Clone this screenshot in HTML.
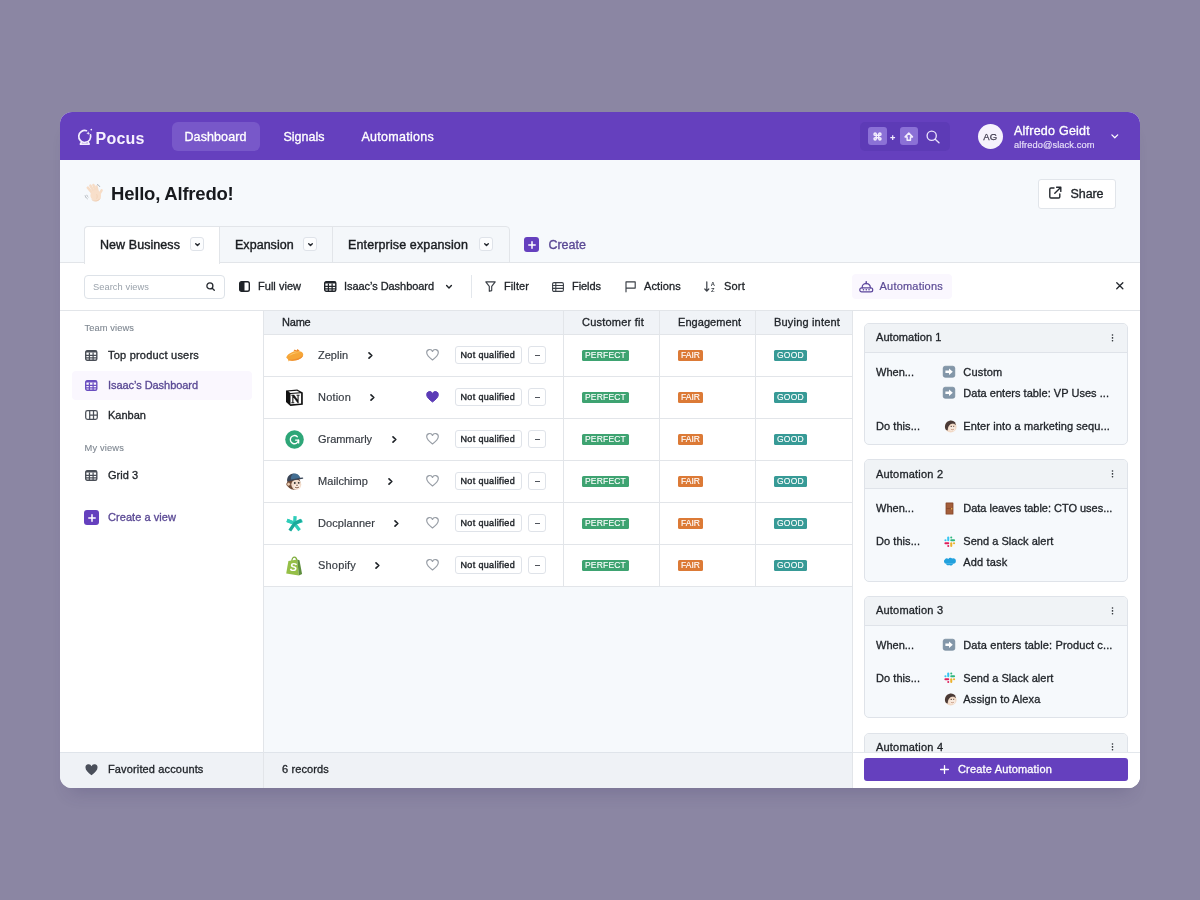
<!DOCTYPE html>
<html lang="en">
<head>
<meta charset="utf-8">
<title>Pocus Dashboard</title>
<style>
*{box-sizing:border-box;margin:0;padding:0}
html,body{width:1200px;height:900px;overflow:hidden}
body{background:#8b86a3;font-family:"Liberation Sans",sans-serif;color:#1f2328;position:relative}
.abs{position:absolute}
#win{position:absolute;left:60px;top:112px;width:1080px;height:676px;border-radius:12px;overflow:hidden;background:#f6f9fc}
#shadow{position:absolute;left:60px;top:112px;width:1080px;height:676px;border-radius:12px;box-shadow:0 14px 18px -10px rgba(45,35,90,.2)}
.t{position:absolute;white-space:nowrap}
svg{position:absolute;overflow:visible}
</style>
</head>
<body>
<div id="shadow"></div>
<div id="win">
<div class="abs" style="left:0px;top:0px;width:1080px;height:48px;background:#6540be;"></div>
<svg style="left:17px;top:16px" width="16" height="18" viewBox="0 0 16 18" ><path d="M13.500 6.800A6 6 0 1 1 9.500 2.750" fill="none" stroke="#f3eefd" stroke-width="1.700" stroke-linecap="round"/><path d="M4.600 13.800L3.300 16.100h9L11 13.800" fill="none" stroke="#f3eefd" stroke-width="1.600" stroke-linejoin="round" stroke-linecap="round"/><path d="M11.200 3.300l.55 1.350 1.350.55-1.350.55-.55 1.350-.55-1.350-1.350-.55 1.350-.55z" fill="#f3eefd"/><circle cx="14.300" cy="1.600" r=".85" fill="#f3eefd"/></svg>
<div class="t" style="left:35.5px;top:18px;font-size:16px;line-height:17px;color:#f6f1fe;font-weight:700;letter-spacing:0.237px;">Pocus</div>
<div class="abs" style="left:112px;top:9.5px;width:88px;height:29.0px;background:#7858c9;border-radius:6px;"></div>
<div class="t" style="left:124.5px;top:18px;font-size:12.5px;line-height:14px;color:#fff;letter-spacing:0.094px;-webkit-text-stroke:0.32px #fff;">Dashboard</div>
<div class="t" style="left:223.5px;top:18px;font-size:12.5px;line-height:14px;color:#fff;-webkit-text-stroke:0.32px #fff;">Signals</div>
<div class="t" style="left:301.5px;top:18px;font-size:12.5px;line-height:14px;color:#fff;letter-spacing:0.274px;-webkit-text-stroke:0.32px #fff;">Automations</div>
<div class="abs" style="left:800px;top:10px;width:90px;height:29px;background:#5d3bb6;border-radius:5px;"></div>
<div class="abs" style="left:808px;top:15.299999999999997px;width:18.600000000000023px;height:18.000000000000014px;background:#8b71d6;border-radius:3px;"></div>
<svg style="left:812.8px;top:19.80000000000001px" width="9" height="9" viewBox="0 0 11 11" fill="none" stroke="#f3eefd" stroke-width="1.700"><path d="M4 4V2.600A1.400 1.400 0 1 0 2.600 4H4zM4 4h3M7 4V2.600A1.400 1.400 0 1 1 8.400 4H7zM7 4v3M7 7h1.400A1.400 1.400 0 1 1 7 8.400V7zM7 7H4M4 7v1.400A1.400 1.400 0 1 1 2.600 7H4zM4 7V4"/></svg>
<svg style="left:830.3px;top:22.5px" width="5.4" height="5.4" viewBox="0 0 5.400 5.400" fill="none" stroke="#efe9fc" stroke-width="1.300"><path d="M2.700 .3v4.800M.3 2.700h4.800"/></svg>
<div class="abs" style="left:840px;top:15.299999999999997px;width:18.200000000000045px;height:18.000000000000014px;background:#8b71d6;border-radius:3px;"></div>
<svg style="left:844.3px;top:19.599999999999994px" width="9.6" height="9.6" viewBox="0 0 11 11" fill="none" stroke="#f3eefd" stroke-width="1.700" stroke-linejoin="round"><path d="M5.500 1.300L1.300 5.600h2.300v3.900h3.800V5.600h2.300z"/></svg>
<svg style="left:866px;top:18.30000000000001px" width="14" height="14" viewBox="0 0 14 14" fill="none" stroke="#e9e1fb" stroke-width="1.350" stroke-linecap="round"><circle cx="5.700" cy="5.700" r="4.600"/><path d="M9.200 9.200l3.800 3.600"/></svg>
<div class="abs" style="left:918px;top:12px;width:24.5px;height:24.5px;background:#f6f2fc;border-radius:12.5px;"></div>
<div class="t" style="left:923.3px;top:19px;font-size:9.5px;line-height:11px;color:#3d394b;letter-spacing:0.187px;-webkit-text-stroke:0.25px #3d394b;">AG</div>
<div class="t" style="left:954px;top:12px;font-size:12.5px;line-height:14px;color:#fff;letter-spacing:0.234px;-webkit-text-stroke:0.35px #fff;">Alfredo Geidt</div>
<div class="t" style="left:954px;top:28px;font-size:9.3px;line-height:10px;color:#e8e0fa;letter-spacing:0.075px;-webkit-text-stroke:0.15px #e8e0fa;">alfredo@slack.com</div>
<svg style="left:1051px;top:22.30000000000001px" width="7.6" height="5" viewBox="0 0 9 6" fill="none" stroke="#fff" stroke-width="1.500" stroke-linecap="round" stroke-linejoin="round"><path d="M1 1l3.500 3.500L8 1"/></svg>
<svg style="left:24px;top:70.5px" width="20" height="20" viewBox="0 0 20 20" ><g fill="none" stroke="#f6dcc6" stroke-width="2.500" stroke-linecap="round"><path d="M8.600 10.400L3.800 4.600"/><path d="M10 9L6.400 2.600"/><path d="M11.800 8.200L9.400 2"/><path d="M13.600 8.400L12.400 3.400"/><path d="M15.200 11.400L17.600 7.400"/></g><ellipse cx="11.800" cy="12.600" rx="5.300" ry="5.700" fill="#f8dfca" transform="rotate(-25 11.800 12.600)"/><path d="M8 16.800c2.200 2 5.800 1.800 7.800-.8" fill="none" stroke="#ecc9ab" stroke-width=".8" stroke-linecap="round"/><path d="M12.800 11.600c.6 1.200.6 2.600 0 3.800" fill="none" stroke="#efceb2" stroke-width=".7" stroke-linecap="round"/><g fill="none" stroke="#a9afb5" stroke-width="1" stroke-linecap="round"><path d="M13.400 1.600c1 .3 1.800 1 2.300 1.900"/><path d="M1.200 12.800c.3 1.200 1 2.200 2 2.900"/><path d="M2.800 12.200c.2.700.7 1.400 1.300 1.800" stroke-width=".8"/></g></svg>
<div class="t" style="left:51px;top:71px;font-size:18.5px;line-height:21px;color:#17191d;font-weight:700;letter-spacing:-0.216px;">Hello, Alfredo!</div>
<div class="abs" style="left:977.5px;top:66.5px;width:78.0px;height:30.0px;background:#fff;border:1px solid #e1e5ea;border-radius:3px;"></div>
<svg style="left:987.8px;top:74.30000000000001px" width="14" height="14" viewBox="0 0 14 14" fill="none" stroke="#24282e" stroke-width="1.400" stroke-linecap="round" stroke-linejoin="round"><path d="M6 2H3a1.200 1.200 0 0 0-1.200 1.200v7.600A1.200 1.200 0 0 0 3 12h7.600a1.200 1.200 0 0 0 1.200-1.200V8"/><path d="M8.600 1.200h4.200v4.200M12.600 1.400L6.800 7.200"/></svg>
<div class="t" style="left:1010.5px;top:75px;font-size:12.5px;line-height:14px;color:#1f2328;letter-spacing:-0.071px;-webkit-text-stroke:0.35px #1f2328;">Share</div>
<div class="abs" style="left:24px;top:113.5px;width:425.5px;height:37.5px;background:#f4f7fa;border:1px solid #e2e5e9;border-radius:4px 4px 0 0;"></div>
<div class="abs" style="left:0px;top:150px;width:1080px;height:1px;background:#e2e5e9;"></div>
<div class="abs" style="left:0px;top:151px;width:1080px;height:47px;background:#fff;"></div>
<div class="abs" style="left:24px;top:113.5px;width:136px;height:38.5px;background:#fff;border:1px solid #e2e5e9;border-bottom:none;border-radius:4px 0 0 0;"></div>
<div class="abs" style="left:272px;top:115px;width:1px;height:35px;background:#e2e5e9;"></div>
<div class="t" style="left:40px;top:126px;font-size:12.5px;line-height:14px;color:#1a1d21;letter-spacing:0.067px;-webkit-text-stroke:0.4px #1a1d21;">New Business</div>
<div class="abs" style="left:130.3px;top:125.30000000000001px;width:14.0px;height:13.699999999999989px;background:#fcfdfe;border:1px solid #dfe3e9;border-radius:3px;"></div>
<svg style="left:135px;top:130.8px" width="5" height="3.2" viewBox="0 0 5 3.200" fill="none" stroke="#24282e" stroke-width="1.400" stroke-linecap="round" stroke-linejoin="round"><path d="M.7.700L2.500 2.500 4.300.7"/></svg>
<div class="t" style="left:175px;top:126px;font-size:12.5px;line-height:14px;color:#1a1d21;letter-spacing:0.036px;-webkit-text-stroke:0.4px #1a1d21;">Expansion</div>
<div class="abs" style="left:243.3px;top:125.30000000000001px;width:14.0px;height:13.699999999999989px;background:#fcfdfe;border:1px solid #dfe3e9;border-radius:3px;"></div>
<svg style="left:248px;top:130.8px" width="5" height="3.2" viewBox="0 0 5 3.200" fill="none" stroke="#24282e" stroke-width="1.400" stroke-linecap="round" stroke-linejoin="round"><path d="M.7.700L2.500 2.500 4.300.7"/></svg>
<div class="t" style="left:288px;top:126px;font-size:12.5px;line-height:14px;color:#1a1d21;letter-spacing:0.128px;-webkit-text-stroke:0.4px #1a1d21;">Enterprise expansion</div>
<div class="abs" style="left:419.3px;top:125.30000000000001px;width:14.0px;height:13.699999999999989px;background:#fcfdfe;border:1px solid #dfe3e9;border-radius:3px;"></div>
<svg style="left:424px;top:130.8px" width="5" height="3.2" viewBox="0 0 5 3.200" fill="none" stroke="#24282e" stroke-width="1.400" stroke-linecap="round" stroke-linejoin="round"><path d="M.7.700L2.500 2.500 4.300.7"/></svg>
<div class="abs" style="left:464px;top:125px;width:15px;height:15px;background:#6540be;border-radius:3px;"></div>
<svg style="left:467.5px;top:128.5px" width="8" height="8" viewBox="0 0 8 8" fill="none" stroke="#fff" stroke-width="1.500" stroke-linecap="round"><path d="M4 .8v6.400M.8 4h6.400"/></svg>
<div class="t" style="left:488.5px;top:126px;font-size:12.5px;line-height:14px;color:#5b4a95;letter-spacing:-0.036px;-webkit-text-stroke:0.35px #5b4a95;">Create</div>
<div class="abs" style="left:24.299999999999997px;top:162.5px;width:140.39999999999998px;height:24.0px;background:#fff;border:1px solid #dde2e8;border-radius:4px;"></div>
<div class="t" style="left:33px;top:170px;font-size:9.3px;line-height:10px;color:#9aa2ab;letter-spacing:0.058px;">Search views</div>
<svg style="left:145.5px;top:169.5px" width="9" height="9" viewBox="0 0 9 9" fill="none" stroke="#24282e" stroke-width="1.300" stroke-linecap="round"><circle cx="3.900" cy="3.900" r="3"/><path d="M6.200 6.200L8.300 8.300"/></svg>
<svg style="left:179px;top:169px" width="11" height="11" viewBox="0 0 11 11" ><rect x=".7" y=".7" width="9.600" height="9.600" rx="1.800" fill="none" stroke="#1f2328" stroke-width="1.400"/><path d="M.7 2.500A1.800 1.800 0 0 1 2.500.7H5.500v9.600H2.500A1.800 1.800 0 0 1 .7 8.500z" fill="#1f2328"/></svg>
<div class="t" style="left:198px;top:168px;font-size:11px;line-height:12px;color:#1f2328;letter-spacing:0.024px;-webkit-text-stroke:0.32px #1f2328;">Full view</div>
<svg style="left:263.5px;top:169px" width="12.5" height="11" viewBox="0 0 12.500 11" ><rect x=".7" y=".7" width="11.100" height="9.600" rx="1.500" fill="none" stroke="#1f2328" stroke-width="1.400"/><path d="M.7 2A1.300 1.300 0 0 1 2 .7h8.500a1.300 1.300 0 0 1 1.300 1.300v.5H.7z" fill="#1f2328"/><path d="M.7 5.400h11.100M.7 7.900h11.100M4.400 2.500v7.800M8.100 2.500v7.800" fill="none" stroke="#1f2328" stroke-width="1.250"/></svg>
<div class="t" style="left:284px;top:168px;font-size:11px;line-height:12px;color:#1f2328;letter-spacing:-0.053px;-webkit-text-stroke:0.32px #1f2328;">Isaac’s Dashboard</div>
<svg style="left:385.5px;top:172.5px" width="6" height="4" viewBox="0 0 6 4" fill="none" stroke="#1f2328" stroke-width="1.400" stroke-linecap="round" stroke-linejoin="round"><path d="M.6.600L3 3 5.400.6"/></svg>
<div class="abs" style="left:411px;top:163px;width:1px;height:23px;background:#e3e7ec;"></div>
<svg style="left:425px;top:169px" width="11" height="11" viewBox="0 0 11 11" fill="none" stroke="#3a3f46" stroke-width="1.150" stroke-linejoin="round"><path d="M.8 .9h9.400L6.700 5.400V9.600L4.300 10.300V5.400z"/></svg>
<div class="t" style="left:444px;top:168px;font-size:11px;line-height:12px;color:#1f2328;letter-spacing:0.093px;-webkit-text-stroke:0.32px #1f2328;">Filter</div>
<svg style="left:492px;top:169.5px" width="12" height="10" viewBox="0 0 12 10" fill="none" stroke="#3a3f46" stroke-width="1.100"><rect x=".6" y=".6" width="10.800" height="8.800" rx="1.400"/><path d="M.6 3.500h10.800M.6 6.400h10.800M3.800 .6v8.800"/></svg>
<div class="t" style="left:512px;top:168px;font-size:11px;line-height:12px;color:#1f2328;letter-spacing:-0.057px;-webkit-text-stroke:0.32px #1f2328;">Fields</div>
<svg style="left:564.5px;top:169px" width="11" height="11" viewBox="0 0 11 11" fill="none" stroke="#3a3f46" stroke-width="1.150" stroke-linejoin="round" stroke-linecap="round"><path d="M1 10.800V.9h9.200v6.200H1"/></svg>
<div class="t" style="left:584px;top:168px;font-size:11px;line-height:12px;color:#1f2328;letter-spacing:0.133px;-webkit-text-stroke:0.32px #1f2328;">Actions</div>
<svg style="left:644px;top:169px" width="12" height="11" viewBox="0 0 12 11" ><path d="M2.800 .8v9M.8 8l2 2.200L4.800 8" fill="none" stroke="#3a3f46" stroke-width="1.200" stroke-linecap="round" stroke-linejoin="round"/><text x="6.800" y="4.800" font-size="5.800" font-weight="700" fill="#3a3f46" font-family="Liberation Sans, sans-serif">A</text><text x="7" y="10.800" font-size="5.800" font-weight="700" fill="#3a3f46" font-family="Liberation Sans, sans-serif">Z</text></svg>
<div class="t" style="left:664px;top:168px;font-size:11px;line-height:12px;color:#1f2328;letter-spacing:0.207px;-webkit-text-stroke:0.32px #1f2328;">Sort</div>
<div class="abs" style="left:792px;top:162px;width:100px;height:25px;background:#faf7fe;border-radius:4px;"></div>
<svg style="left:798.5px;top:168.5px" width="14.5" height="11.5" viewBox="0 0 14.500 11.500" fill="none" stroke="#5b469c" stroke-width="1.200" stroke-linecap="round" stroke-linejoin="round"><path d="M7.250 .9v1.800"/><circle cx="7.250" cy="1" r=".8" fill="#5b469c" stroke="none"/><path d="M3.200 7V6.200a3.500 3.500 0 0 1 3.500-3.500h1.100a3.500 3.500 0 0 1 3.500 3.500V7"/><rect x=".8" y="6.800" width="12.900" height="4" rx="1.900"/><path d="M4.400 8.800h.1M7.200 8.800h.1M10 8.800h.1" stroke-width="1.500"/></svg>
<div class="t" style="left:819.5px;top:168px;font-size:11px;line-height:12px;color:#5b4a95;letter-spacing:0.214px;-webkit-text-stroke:0.2px #5b4a95;">Automations</div>
<svg style="left:1056.3px;top:170.3px" width="7.6" height="7.6" viewBox="0 0 8 8" fill="none" stroke="#24282e" stroke-width="1.400" stroke-linecap="round"><path d="M.8.800l6.400 6.400M7.200.8L.8 7.200"/></svg>
<div class="abs" style="left:0px;top:198px;width:1080px;height:1px;background:#e2e5e9;"></div>
<div class="abs" style="left:0px;top:199px;width:203px;height:441px;background:#fff;"></div>
<div class="abs" style="left:203px;top:199px;width:1px;height:477px;background:#e2e5e9;"></div>
<div class="t" style="left:24.5px;top:211px;font-size:9.3px;line-height:10px;color:#7f8791;letter-spacing:0.092px;-webkit-text-stroke:0.1px #7f8791;">Team views</div>
<svg style="left:25px;top:238px" width="12.5" height="11" viewBox="0 0 12.500 11" ><rect x=".7" y=".7" width="11.100" height="9.600" rx="1.500" fill="none" stroke="#4a4f57" stroke-width="1.400"/><path d="M.7 2A1.300 1.300 0 0 1 2 .7h8.500a1.300 1.300 0 0 1 1.300 1.300v.5H.7z" fill="#4a4f57"/><path d="M.7 5.400h11.100M.7 7.900h11.100M4.400 2.500v7.800M8.100 2.500v7.800" fill="none" stroke="#4a4f57" stroke-width="1.250"/></svg>
<div class="t" style="left:48px;top:237px;font-size:11px;line-height:12px;color:#1f2328;letter-spacing:0.21px;-webkit-text-stroke:0.32px #1f2328;">Top product users</div>
<div class="abs" style="left:12px;top:258.5px;width:180px;height:29.0px;background:#faf7fe;border-radius:4px;"></div>
<svg style="left:25px;top:268px" width="12.5" height="11" viewBox="0 0 12.500 11" ><rect x=".7" y=".7" width="11.100" height="9.600" rx="1.500" fill="none" stroke="#6a4fc0" stroke-width="1.400"/><path d="M.7 2A1.300 1.300 0 0 1 2 .7h8.500a1.300 1.300 0 0 1 1.300 1.300v.5H.7z" fill="#6a4fc0"/><path d="M.7 5.400h11.100M.7 7.900h11.100M4.400 2.500v7.800M8.100 2.500v7.800" fill="none" stroke="#6a4fc0" stroke-width="1.250"/></svg>
<div class="t" style="left:48px;top:267px;font-size:11px;line-height:12px;color:#5b4a95;letter-spacing:-0.053px;-webkit-text-stroke:0.32px #5b4a95;">Isaac’s Dashboard</div>
<svg style="left:25px;top:298px" width="13" height="10" viewBox="0 0 13 10" fill="none" stroke="#4a4f57" stroke-width="1.250"><rect x=".7" y=".7" width="11.600" height="8.600" rx="1.800"/><path d="M4.700 .7v8.600M8.500 .7v8.600M4.700 5h7.600"/></svg>
<div class="t" style="left:48px;top:297px;font-size:11px;line-height:12px;color:#1f2328;letter-spacing:0.012px;-webkit-text-stroke:0.32px #1f2328;">Kanban</div>
<div class="t" style="left:24.5px;top:331px;font-size:9.3px;line-height:10px;color:#7f8791;letter-spacing:0.158px;-webkit-text-stroke:0.1px #7f8791;">My views</div>
<svg style="left:25px;top:358px" width="12.5" height="11" viewBox="0 0 12.500 11" ><rect x=".7" y=".7" width="11.100" height="9.600" rx="1.500" fill="none" stroke="#4a4f57" stroke-width="1.400"/><path d="M.7 2A1.300 1.300 0 0 1 2 .7h8.500a1.300 1.300 0 0 1 1.300 1.300v.5H.7z" fill="#4a4f57"/><path d="M.7 5.400h11.100M.7 7.900h11.100M4.400 2.500v7.800M8.100 2.500v7.800" fill="none" stroke="#4a4f57" stroke-width="1.250"/></svg>
<div class="t" style="left:48px;top:357px;font-size:11px;line-height:12px;color:#1f2328;letter-spacing:0.008px;-webkit-text-stroke:0.32px #1f2328;">Grid 3</div>
<div class="abs" style="left:24px;top:398px;width:15px;height:15px;background:#6540be;border-radius:3px;"></div>
<svg style="left:27.5px;top:401.5px" width="8" height="8" viewBox="0 0 8 8" fill="none" stroke="#fff" stroke-width="1.500" stroke-linecap="round"><path d="M4 .8v6.400M.8 4h6.400"/></svg>
<div class="t" style="left:48px;top:399px;font-size:11px;line-height:12px;color:#5b4a95;letter-spacing:0.058px;-webkit-text-stroke:0.32px #5b4a95;">Create a view</div>
<div class="abs" style="left:0px;top:640px;width:792px;height:36px;background:#eff2f6;"></div>
<div class="abs" style="left:0px;top:640px;width:1080px;height:1px;background:#dfe4ea;"></div>
<div class="abs" style="left:203px;top:640px;width:1px;height:36px;background:#e2e5e9;"></div>
<svg style="left:25px;top:651.5px" width="13" height="11.5" viewBox="0 0 13 11.500" fill="#4a4f5a"><path d="M6.500 11.200C2.800 8.300.5 6.200.5 3.700A3.100 3.100 0 0 1 6.500 2.300 3.100 3.100 0 0 1 12.500 3.700c0 2.500-2.300 4.600-6 7.500z"/></svg>
<div class="t" style="left:48px;top:651px;font-size:11px;line-height:12px;color:#1f2328;letter-spacing:0.142px;-webkit-text-stroke:0.32px #1f2328;">Favorited accounts</div>
<div class="t" style="left:222px;top:651px;font-size:11px;line-height:12px;color:#1f2328;letter-spacing:0.127px;-webkit-text-stroke:0.32px #1f2328;">6 records</div>
<div class="abs" style="left:204px;top:199px;width:589px;height:23px;background:#f0f3f7;"></div>
<div class="abs" style="left:204px;top:222px;width:589px;height:1px;background:#e2e5e9;"></div>
<div class="t" style="left:222px;top:204px;font-size:11px;line-height:12px;color:#1f2328;letter-spacing:-0.211px;-webkit-text-stroke:0.32px #1f2328;">Name</div>
<div class="t" style="left:522px;top:204px;font-size:11px;line-height:12px;color:#1f2328;letter-spacing:0.226px;-webkit-text-stroke:0.32px #1f2328;">Customer fit</div>
<div class="t" style="left:618px;top:204px;font-size:11px;line-height:12px;color:#1f2328;letter-spacing:0.062px;-webkit-text-stroke:0.32px #1f2328;">Engagement</div>
<div class="t" style="left:714px;top:204px;font-size:11px;line-height:12px;color:#1f2328;letter-spacing:0.185px;-webkit-text-stroke:0.32px #1f2328;">Buying intent</div>
<div class="abs" style="left:204px;top:223px;width:588px;height:41px;background:#fff;"></div>
<div class="abs" style="left:204px;top:264px;width:589px;height:1px;background:#e2e5e9;"></div>
<svg style="left:224.5px;top:235.10000000000002px" width="19" height="19" viewBox="0 0 19 19" ><path d="M8.300 4.600l1.300-2.100 1.900.9 1-1.300 2.300 2z" fill="#f08a2b"/><path d="M1.200 10.600C2.300 7.400 6.200 4.700 10.700 4.200c4-.5 7.100.7 7.500 2.900.4 2.500-2.500 5.100-7 6.100-2.600.6-4.800.6-6.300.1l-1.300 1.300-.5-2.100z" fill="#f6a638"/><path d="M4 8.600c1.700-1.600 4-2.700 6.800-3 1.700-.2 3.200 0 4.400.4-2.600-.2-5 .3-7.300 1.300-1.500.7-2.800 1.300-3.900 1.300z" fill="#fbc66c"/><path d="M3.100 12.300c2.400.7 5.800.5 9.200-.7 2.700-.9 4.800-2.300 5.900-3.600-.3 2.200-3 4.400-7 5.300-2.600.6-4.800.6-6.300.1z" fill="#ee8e2f"/></svg>
<div class="t" style="left:258px;top:237px;font-size:11px;line-height:12px;color:#373c43;letter-spacing:0.007px;-webkit-text-stroke:0.18px #373c43;">Zeplin</div>
<svg style="left:307.5px;top:239.8px" width="5" height="7" viewBox="0 0 5 7" fill="none" stroke="#1f2328" stroke-width="1.700" stroke-linecap="round" stroke-linejoin="round"><path d="M1 .8l2.800 2.700L1 6.200"/></svg>
<svg style="left:365.5px;top:237.3px" width="13" height="11.5" viewBox="0 0 13 11.500" fill="#fff" stroke="#989ea6" stroke-width="1.150" stroke-linejoin="round"><path d="M6.500 11C2.900 8.200.7 6.200.7 3.800A3 3 0 0 1 6.500 2.500 3 3 0 0 1 12.300 3.800c0 2.400-2.200 4.400-5.800 7.200z"/></svg>
<div class="abs" style="left:395px;top:234.3px;width:67px;height:18.0px;background:#fff;border:1px solid #dfe3e9;border-radius:3px;"></div>
<div class="t" style="left:400.5px;top:238px;font-size:9px;line-height:10px;color:#1f2328;letter-spacing:0.344px;-webkit-text-stroke:0.4px #1f2328;">Not qualified</div>
<div class="abs" style="left:468px;top:234.3px;width:18px;height:18.0px;background:#fff;border:1px solid #dfe3e9;border-radius:3px;"></div>
<div class="abs" style="left:474.5px;top:242.90000000000003px;width:5.0px;height:1.0px;background:#50555d;"></div>
<div class="abs" style="left:522px;top:237.5px;width:46.5px;height:11.800000000000011px;background:#3ea371;border-radius:1.5px;"></div>
<div class="t" style="left:525px;top:238px;font-size:8.5px;line-height:10px;color:#fff;letter-spacing:0.19px;-webkit-text-stroke:0.12px #fff;">PERFECT</div>
<div class="abs" style="left:618px;top:237.5px;width:25px;height:11.800000000000011px;background:#dc7a36;border-radius:1.5px;"></div>
<div class="t" style="left:621px;top:238px;font-size:8.5px;line-height:10px;color:#fff;letter-spacing:0.027px;-webkit-text-stroke:0.12px #fff;">FAIR</div>
<div class="abs" style="left:714px;top:237.5px;width:33.299999999999955px;height:11.800000000000011px;background:#379a96;border-radius:1.5px;"></div>
<div class="t" style="left:717px;top:238px;font-size:8.5px;line-height:10px;color:#fff;letter-spacing:0.257px;-webkit-text-stroke:0.12px #fff;">GOOD</div>
<div class="abs" style="left:204px;top:265px;width:588px;height:41px;background:#fff;"></div>
<div class="abs" style="left:204px;top:306px;width:589px;height:1px;background:#e2e5e9;"></div>
<svg style="left:224.5px;top:275.8px" width="19" height="19" viewBox="0 0 19 19" ><path d="M1 2.400l11.200-1 5.600 3v12.400L5.400 18 1 14z" fill="#111"/><path d="M5.500 6.100l10.600-.8v10.100l-10.600.9z" fill="#fff"/><path d="M3.300 3.400l8.600-.7 2.900 1.500-9.300.7z" fill="#fff"/><text x="6.300" y="14.900" font-size="11.500" font-weight="700" fill="#111" stroke="#111" stroke-width=".3" font-family="Liberation Serif, serif">N</text></svg>
<div class="t" style="left:258px;top:279px;font-size:11px;line-height:12px;color:#373c43;letter-spacing:0.2px;-webkit-text-stroke:0.18px #373c43;">Notion</div>
<svg style="left:309.5px;top:281.8px" width="5" height="7" viewBox="0 0 5 7" fill="none" stroke="#1f2328" stroke-width="1.700" stroke-linecap="round" stroke-linejoin="round"><path d="M1 .8l2.800 2.700L1 6.200"/></svg>
<svg style="left:365.5px;top:279.3px" width="13" height="11.5" viewBox="0 0 13 11.500" fill="#5b3bb6" stroke="#5b3bb6" stroke-width="1"><path d="M6.500 11C2.900 8.200.7 6.200.7 3.800A3 3 0 0 1 6.500 2.500 3 3 0 0 1 12.300 3.800c0 2.400-2.200 4.400-5.800 7.200z"/></svg>
<div class="abs" style="left:395px;top:276.3px;width:67px;height:18.0px;background:#fff;border:1px solid #dfe3e9;border-radius:3px;"></div>
<div class="t" style="left:400.5px;top:280px;font-size:9px;line-height:10px;color:#1f2328;letter-spacing:0.344px;-webkit-text-stroke:0.4px #1f2328;">Not qualified</div>
<div class="abs" style="left:468px;top:276.3px;width:18px;height:18.0px;background:#fff;border:1px solid #dfe3e9;border-radius:3px;"></div>
<div class="abs" style="left:474.5px;top:284.90000000000003px;width:5.0px;height:1.0px;background:#50555d;"></div>
<div class="abs" style="left:522px;top:279.5px;width:46.5px;height:11.800000000000011px;background:#3ea371;border-radius:1.5px;"></div>
<div class="t" style="left:525px;top:280px;font-size:8.5px;line-height:10px;color:#fff;letter-spacing:0.19px;-webkit-text-stroke:0.12px #fff;">PERFECT</div>
<div class="abs" style="left:618px;top:279.5px;width:25px;height:11.800000000000011px;background:#dc7a36;border-radius:1.5px;"></div>
<div class="t" style="left:621px;top:280px;font-size:8.5px;line-height:10px;color:#fff;letter-spacing:0.027px;-webkit-text-stroke:0.12px #fff;">FAIR</div>
<div class="abs" style="left:714px;top:279.5px;width:33.299999999999955px;height:11.800000000000011px;background:#379a96;border-radius:1.5px;"></div>
<div class="t" style="left:717px;top:280px;font-size:8.5px;line-height:10px;color:#fff;letter-spacing:0.257px;-webkit-text-stroke:0.12px #fff;">GOOD</div>
<div class="abs" style="left:204px;top:307px;width:588px;height:41px;background:#fff;"></div>
<div class="abs" style="left:204px;top:348px;width:589px;height:1px;background:#e2e5e9;"></div>
<svg style="left:224.5px;top:317.8px" width="19" height="19" viewBox="0 0 19 19" ><circle cx="9.500" cy="9.500" r="9.300" fill="#2ea678"/><path d="M12.300 6.700A4.100 4.100 0 1 0 13.500 10.100" fill="none" stroke="#fff" stroke-width="1.350" stroke-linecap="round"/><path d="M10.600 10.100h3v2.800" fill="none" stroke="#fff" stroke-width="1.400" stroke-linecap="round" stroke-linejoin="round"/></svg>
<div class="t" style="left:258px;top:321px;font-size:11px;line-height:12px;color:#373c43;letter-spacing:-0.043px;-webkit-text-stroke:0.18px #373c43;">Grammarly</div>
<svg style="left:331.5px;top:323.8px" width="5" height="7" viewBox="0 0 5 7" fill="none" stroke="#1f2328" stroke-width="1.700" stroke-linecap="round" stroke-linejoin="round"><path d="M1 .8l2.800 2.700L1 6.200"/></svg>
<svg style="left:365.5px;top:321.3px" width="13" height="11.5" viewBox="0 0 13 11.500" fill="#fff" stroke="#989ea6" stroke-width="1.150" stroke-linejoin="round"><path d="M6.500 11C2.900 8.200.7 6.200.7 3.800A3 3 0 0 1 6.500 2.500 3 3 0 0 1 12.300 3.800c0 2.400-2.200 4.400-5.800 7.200z"/></svg>
<div class="abs" style="left:395px;top:318.3px;width:67px;height:18.0px;background:#fff;border:1px solid #dfe3e9;border-radius:3px;"></div>
<div class="t" style="left:400.5px;top:322px;font-size:9px;line-height:10px;color:#1f2328;letter-spacing:0.344px;-webkit-text-stroke:0.4px #1f2328;">Not qualified</div>
<div class="abs" style="left:468px;top:318.3px;width:18px;height:18.0px;background:#fff;border:1px solid #dfe3e9;border-radius:3px;"></div>
<div class="abs" style="left:474.5px;top:326.90000000000003px;width:5.0px;height:1.0px;background:#50555d;"></div>
<div class="abs" style="left:522px;top:321.5px;width:46.5px;height:11.800000000000011px;background:#3ea371;border-radius:1.5px;"></div>
<div class="t" style="left:525px;top:322px;font-size:8.5px;line-height:10px;color:#fff;letter-spacing:0.19px;-webkit-text-stroke:0.12px #fff;">PERFECT</div>
<div class="abs" style="left:618px;top:321.5px;width:25px;height:11.800000000000011px;background:#dc7a36;border-radius:1.5px;"></div>
<div class="t" style="left:621px;top:322px;font-size:8.5px;line-height:10px;color:#fff;letter-spacing:0.027px;-webkit-text-stroke:0.12px #fff;">FAIR</div>
<div class="abs" style="left:714px;top:321.5px;width:33.299999999999955px;height:11.800000000000011px;background:#379a96;border-radius:1.5px;"></div>
<div class="t" style="left:717px;top:322px;font-size:8.5px;line-height:10px;color:#fff;letter-spacing:0.257px;-webkit-text-stroke:0.12px #fff;">GOOD</div>
<div class="abs" style="left:204px;top:349px;width:588px;height:41px;background:#fff;"></div>
<div class="abs" style="left:204px;top:390px;width:589px;height:1px;background:#e2e5e9;"></div>
<svg style="left:224.5px;top:359.8px" width="19" height="19" viewBox="0 0 19 19" ><circle cx="8.800" cy="11" r="6.800" fill="#6e4a36"/><circle cx="3.600" cy="12.200" r="1.900" fill="#e9c9ae" stroke="#6e4a36" stroke-width=".8"/><ellipse cx="11.300" cy="12.600" rx="5" ry="5.200" fill="#f2dccb"/><ellipse cx="12" cy="14.800" rx="3.300" ry="2.500" fill="#fbeee4"/><path d="M2.200 9.400C1.600 5.200 4.400 1.600 8.600 1.500c3.200-.1 5.600 1.500 6.600 4.200l2.400-.2c.8 0 .9.900.2 1.200L2.200 9.400z" fill="#3a4658"/><path d="M8.600 1.500c3.200-.1 5.600 1.500 6.600 4.200L6 7.600C5.600 4.800 6.600 2.600 8.600 1.500z" fill="#4a90c2" opacity=".55"/><circle cx="9.800" cy="11" r=".9" fill="#2b2b2b"/><circle cx="13.700" cy="10.800" r=".9" fill="#2b2b2b"/><path d="M10.200 15.300c1 .8 2.600.8 3.600-.1" fill="none" stroke="#6b3d25" stroke-width=".8" stroke-linecap="round"/><path d="M11.400 13.300h1.200" stroke="#6b3d25" stroke-width=".7" stroke-linecap="round"/></svg>
<div class="t" style="left:258px;top:363px;font-size:11px;line-height:12px;color:#373c43;letter-spacing:0.054px;-webkit-text-stroke:0.18px #373c43;">Mailchimp</div>
<svg style="left:327.5px;top:365.8px" width="5" height="7" viewBox="0 0 5 7" fill="none" stroke="#1f2328" stroke-width="1.700" stroke-linecap="round" stroke-linejoin="round"><path d="M1 .8l2.800 2.700L1 6.200"/></svg>
<svg style="left:365.5px;top:363.3px" width="13" height="11.5" viewBox="0 0 13 11.500" fill="#fff" stroke="#989ea6" stroke-width="1.150" stroke-linejoin="round"><path d="M6.500 11C2.900 8.200.7 6.200.7 3.800A3 3 0 0 1 6.500 2.500 3 3 0 0 1 12.300 3.800c0 2.400-2.200 4.400-5.800 7.200z"/></svg>
<div class="abs" style="left:395px;top:360.3px;width:67px;height:18.0px;background:#fff;border:1px solid #dfe3e9;border-radius:3px;"></div>
<div class="t" style="left:400.5px;top:364px;font-size:9px;line-height:10px;color:#1f2328;letter-spacing:0.344px;-webkit-text-stroke:0.4px #1f2328;">Not qualified</div>
<div class="abs" style="left:468px;top:360.3px;width:18px;height:18.0px;background:#fff;border:1px solid #dfe3e9;border-radius:3px;"></div>
<div class="abs" style="left:474.5px;top:368.90000000000003px;width:5.0px;height:1.0px;background:#50555d;"></div>
<div class="abs" style="left:522px;top:363.5px;width:46.5px;height:11.800000000000011px;background:#3ea371;border-radius:1.5px;"></div>
<div class="t" style="left:525px;top:364px;font-size:8.5px;line-height:10px;color:#fff;letter-spacing:0.19px;-webkit-text-stroke:0.12px #fff;">PERFECT</div>
<div class="abs" style="left:618px;top:363.5px;width:25px;height:11.800000000000011px;background:#dc7a36;border-radius:1.5px;"></div>
<div class="t" style="left:621px;top:364px;font-size:8.5px;line-height:10px;color:#fff;letter-spacing:0.027px;-webkit-text-stroke:0.12px #fff;">FAIR</div>
<div class="abs" style="left:714px;top:363.5px;width:33.299999999999955px;height:11.800000000000011px;background:#379a96;border-radius:1.5px;"></div>
<div class="t" style="left:717px;top:364px;font-size:8.5px;line-height:10px;color:#fff;letter-spacing:0.257px;-webkit-text-stroke:0.12px #fff;">GOOD</div>
<div class="abs" style="left:204px;top:391px;width:588px;height:41px;background:#fff;"></div>
<div class="abs" style="left:204px;top:432px;width:589px;height:1px;background:#e2e5e9;"></div>
<svg style="left:224.5px;top:401.79999999999995px" width="19" height="19" viewBox="0 0 19 19" ><g fill="none" stroke-linecap="butt" stroke-width="3.300"><path d="M9.600 9.300L10.100 2.200" stroke="#2fcdb9"/><path d="M9.400 9.600L14.600 16.200" stroke="#2fcdb9"/><path d="M2 6.400L9.400 9.200 17.300 6.700" stroke="#2fcdb9"/><path d="M16.200 6.200L9.600 9.600 4.800 16.600" stroke="#19a99a"/><path d="M2 6.400L8 8.700" stroke="#2fcdb9"/></g></svg>
<div class="t" style="left:258px;top:405px;font-size:11px;line-height:12px;color:#373c43;letter-spacing:0.074px;-webkit-text-stroke:0.18px #373c43;">Docplanner</div>
<svg style="left:333.5px;top:407.79999999999995px" width="5" height="7" viewBox="0 0 5 7" fill="none" stroke="#1f2328" stroke-width="1.700" stroke-linecap="round" stroke-linejoin="round"><path d="M1 .8l2.800 2.700L1 6.200"/></svg>
<svg style="left:365.5px;top:405.29999999999995px" width="13" height="11.5" viewBox="0 0 13 11.500" fill="#fff" stroke="#989ea6" stroke-width="1.150" stroke-linejoin="round"><path d="M6.500 11C2.900 8.200.7 6.200.7 3.800A3 3 0 0 1 6.500 2.500 3 3 0 0 1 12.300 3.800c0 2.400-2.200 4.400-5.800 7.200z"/></svg>
<div class="abs" style="left:395px;top:402.29999999999995px;width:67px;height:18.0px;background:#fff;border:1px solid #dfe3e9;border-radius:3px;"></div>
<div class="t" style="left:400.5px;top:406px;font-size:9px;line-height:10px;color:#1f2328;letter-spacing:0.344px;-webkit-text-stroke:0.4px #1f2328;">Not qualified</div>
<div class="abs" style="left:468px;top:402.29999999999995px;width:18px;height:18.0px;background:#fff;border:1px solid #dfe3e9;border-radius:3px;"></div>
<div class="abs" style="left:474.5px;top:410.9px;width:5.0px;height:1.0px;background:#50555d;"></div>
<div class="abs" style="left:522px;top:405.5px;width:46.5px;height:11.799999999999955px;background:#3ea371;border-radius:1.5px;"></div>
<div class="t" style="left:525px;top:406px;font-size:8.5px;line-height:10px;color:#fff;letter-spacing:0.19px;-webkit-text-stroke:0.12px #fff;">PERFECT</div>
<div class="abs" style="left:618px;top:405.5px;width:25px;height:11.799999999999955px;background:#dc7a36;border-radius:1.5px;"></div>
<div class="t" style="left:621px;top:406px;font-size:8.5px;line-height:10px;color:#fff;letter-spacing:0.027px;-webkit-text-stroke:0.12px #fff;">FAIR</div>
<div class="abs" style="left:714px;top:405.5px;width:33.299999999999955px;height:11.799999999999955px;background:#379a96;border-radius:1.5px;"></div>
<div class="t" style="left:717px;top:406px;font-size:8.5px;line-height:10px;color:#fff;letter-spacing:0.257px;-webkit-text-stroke:0.12px #fff;">GOOD</div>
<div class="abs" style="left:204px;top:433px;width:588px;height:41px;background:#fff;"></div>
<div class="abs" style="left:204px;top:474px;width:589px;height:1px;background:#e2e5e9;"></div>
<svg style="left:224.5px;top:443.79999999999995px" width="19" height="20" viewBox="0 0 19 20" ><path d="M6.800 5.200c.2-2.300 1.300-4 2.700-4 1.300 0 2.100 1.300 2.300 3.200" fill="none" stroke="#7fae3d" stroke-width="1.200"/><path d="M3.400 5L12.200 3.500 13.900 19.600 1.200 17.500z" fill="#95bf47"/><path d="M12.200 3.500l2.300.7 2.600 13.900-3.200 1.500z" fill="#5e8e3e"/><text x="4.700" y="15.300" font-size="11" font-weight="700" font-style="italic" fill="#fff" font-family="Liberation Sans, sans-serif">S</text></svg>
<div class="t" style="left:258px;top:447px;font-size:11px;line-height:12px;color:#373c43;letter-spacing:0.187px;-webkit-text-stroke:0.18px #373c43;">Shopify</div>
<svg style="left:314.5px;top:449.79999999999995px" width="5" height="7" viewBox="0 0 5 7" fill="none" stroke="#1f2328" stroke-width="1.700" stroke-linecap="round" stroke-linejoin="round"><path d="M1 .8l2.800 2.700L1 6.200"/></svg>
<svg style="left:365.5px;top:447.29999999999995px" width="13" height="11.5" viewBox="0 0 13 11.500" fill="#fff" stroke="#989ea6" stroke-width="1.150" stroke-linejoin="round"><path d="M6.500 11C2.900 8.200.7 6.200.7 3.800A3 3 0 0 1 6.500 2.500 3 3 0 0 1 12.300 3.800c0 2.400-2.200 4.400-5.800 7.200z"/></svg>
<div class="abs" style="left:395px;top:444.29999999999995px;width:67px;height:18.0px;background:#fff;border:1px solid #dfe3e9;border-radius:3px;"></div>
<div class="t" style="left:400.5px;top:448px;font-size:9px;line-height:10px;color:#1f2328;letter-spacing:0.344px;-webkit-text-stroke:0.4px #1f2328;">Not qualified</div>
<div class="abs" style="left:468px;top:444.29999999999995px;width:18px;height:18.0px;background:#fff;border:1px solid #dfe3e9;border-radius:3px;"></div>
<div class="abs" style="left:474.5px;top:452.9px;width:5.0px;height:1.0px;background:#50555d;"></div>
<div class="abs" style="left:522px;top:447.5px;width:46.5px;height:11.799999999999955px;background:#3ea371;border-radius:1.5px;"></div>
<div class="t" style="left:525px;top:448px;font-size:8.5px;line-height:10px;color:#fff;letter-spacing:0.19px;-webkit-text-stroke:0.12px #fff;">PERFECT</div>
<div class="abs" style="left:618px;top:447.5px;width:25px;height:11.799999999999955px;background:#dc7a36;border-radius:1.5px;"></div>
<div class="t" style="left:621px;top:448px;font-size:8.5px;line-height:10px;color:#fff;letter-spacing:0.027px;-webkit-text-stroke:0.12px #fff;">FAIR</div>
<div class="abs" style="left:714px;top:447.5px;width:33.299999999999955px;height:11.799999999999955px;background:#379a96;border-radius:1.5px;"></div>
<div class="t" style="left:717px;top:448px;font-size:8.5px;line-height:10px;color:#fff;letter-spacing:0.257px;-webkit-text-stroke:0.12px #fff;">GOOD</div>
<div class="abs" style="left:503px;top:199px;width:1px;height:275px;background:#e2e5e9;"></div>
<div class="abs" style="left:599px;top:199px;width:1px;height:275px;background:#e2e5e9;"></div>
<div class="abs" style="left:695px;top:199px;width:1px;height:275px;background:#e2e5e9;"></div>
<div class="abs" style="left:792px;top:199px;width:1px;height:477px;background:#e2e5e9;"></div>
<div class="abs" style="left:793px;top:199px;width:287px;height:477px;background:#fff;"></div>
<div class="abs" style="left:804px;top:210.7px;width:264px;height:122.30000000000001px;background:#f6f9fc;border:1px solid #dfe3e9;border-radius:5px;"></div>
<div class="abs" style="left:805px;top:211.7px;width:262px;height:28.399999999999977px;background:#f0f3f6;border-radius:4px 4px 0 0;"></div>
<div class="abs" style="left:805px;top:239.59999999999997px;width:262px;height:1.0px;background:#dfe3e9;"></div>
<div class="t" style="left:816px;top:219px;font-size:11px;line-height:12px;color:#1f2328;letter-spacing:0.04px;-webkit-text-stroke:0.32px #1f2328;">Automation 1</div>
<svg style="left:1051.4px;top:221.5px" width="3" height="8" viewBox="0 0 3 8" fill="#24282e"><circle cx="1.500" cy="1" r=".8"/><circle cx="1.500" cy="3.900" r=".8"/><circle cx="1.500" cy="6.800" r=".8"/></svg>
<div class="t" style="left:816px;top:254px;font-size:11px;line-height:12px;color:#1f2328;letter-spacing:0.014px;-webkit-text-stroke:0.32px #1f2328;">When...</div>
<svg style="left:883.3px;top:253.8px" width="12" height="11.5" viewBox="0 0 12 11.500" ><rect x=".2" y=".2" width="11.600" height="11.100" rx="2" fill="#8397a9"/><rect x=".2" y=".2" width="11.600" height="11.100" rx="2" fill="none" stroke="#6c8294" stroke-width=".6"/><path d="M2.400 4.600h3.600V2.500l3.800 3.250-3.800 3.250V6.900H2.400z" fill="#fff"/></svg>
<div class="t" style="left:903.3px;top:254px;font-size:11px;line-height:12px;color:#1f2328;letter-spacing:0.184px;-webkit-text-stroke:0.32px #1f2328;">Custom</div>
<svg style="left:883.3px;top:275.09999999999997px" width="12" height="11.5" viewBox="0 0 12 11.500" ><rect x=".2" y=".2" width="11.600" height="11.100" rx="2" fill="#8397a9"/><rect x=".2" y=".2" width="11.600" height="11.100" rx="2" fill="none" stroke="#6c8294" stroke-width=".6"/><path d="M2.400 4.600h3.600V2.500l3.800 3.250-3.800 3.250V6.900H2.400z" fill="#fff"/></svg>
<div class="t" style="left:903.3px;top:275px;font-size:11px;line-height:12px;color:#1f2328;letter-spacing:0.033px;-webkit-text-stroke:0.32px #1f2328;">Data enters table: VP Uses ...</div>
<div class="t" style="left:816px;top:308px;font-size:11px;line-height:12px;color:#1f2328;letter-spacing:0.06px;-webkit-text-stroke:0.32px #1f2328;">Do this...</div>
<svg style="left:883.5px;top:307.5px" width="13" height="13" viewBox="0 0 13 13" ><circle cx="6.700" cy="6.700" r="5.900" fill="#f1d9c6"/><path d="M1.300 8.800C.2 5.200 2 1.400 5.600.7c2.600-.5 4.800.5 6 2.400C9 2.600 6.600 3.400 5.200 5.400 4.200 6.800 3.600 8.600 3.800 10.600 2.700 10.400 1.700 9.800 1.300 8.800z" fill="#4a3a36"/><path d="M6.200 3.600c1.800-.8 3.800-.6 5.200.6" stroke="#4a3a36" stroke-width="1.100" fill="none" stroke-linecap="round"/><ellipse cx="8.300" cy="8.400" rx="3" ry="2.600" fill="#f8e9dd"/><circle cx="7.200" cy="6.400" r=".55" fill="#3a2a24"/><circle cx="9.700" cy="6.300" r=".55" fill="#3a2a24"/><path d="M7.200 9.400c.7.500 1.700.5 2.400 0" fill="none" stroke="#a66a4c" stroke-width=".6" stroke-linecap="round"/></svg>
<div class="t" style="left:903.3px;top:308px;font-size:11px;line-height:12px;color:#1f2328;letter-spacing:0.1px;-webkit-text-stroke:0.32px #1f2328;">Enter into a marketing sequ...</div>
<div class="abs" style="left:804px;top:347.35px;width:264px;height:122.29999999999995px;background:#f6f9fc;border:1px solid #dfe3e9;border-radius:5px;"></div>
<div class="abs" style="left:805px;top:348.35px;width:262px;height:28.399999999999977px;background:#f0f3f6;border-radius:4px 4px 0 0;"></div>
<div class="abs" style="left:805px;top:376.25px;width:262px;height:1.0px;background:#dfe3e9;"></div>
<div class="t" style="left:816px;top:356px;font-size:11px;line-height:12px;color:#1f2328;letter-spacing:0.198px;-webkit-text-stroke:0.32px #1f2328;">Automation 2</div>
<svg style="left:1051.4px;top:358.15000000000003px" width="3" height="8" viewBox="0 0 3 8" fill="#24282e"><circle cx="1.500" cy="1" r=".8"/><circle cx="1.500" cy="3.900" r=".8"/><circle cx="1.500" cy="6.800" r=".8"/></svg>
<div class="t" style="left:816px;top:390px;font-size:11px;line-height:12px;color:#1f2328;letter-spacing:0.014px;-webkit-text-stroke:0.32px #1f2328;">When...</div>
<svg style="left:883.0px;top:389.95000000000005px" width="13" height="13" viewBox="0 0 13 13" ><rect x="2.600" y=".5" width="7.800" height="12" rx=".6" fill="#8a4b2d"/><rect x="3.600" y="1.500" width="5.800" height="4.600" fill="#a35e3a"/><rect x="3.600" y="6.900" width="5.800" height="4.800" fill="#a35e3a"/><circle cx="8.700" cy="6.700" r=".7" fill="#f2c14e"/></svg>
<div class="t" style="left:903.3px;top:390px;font-size:11px;line-height:12px;color:#1f2328;letter-spacing:-0.02px;-webkit-text-stroke:0.32px #1f2328;">Data leaves table: CTO uses...</div>
<div class="t" style="left:816px;top:423px;font-size:11px;line-height:12px;color:#1f2328;letter-spacing:0.06px;-webkit-text-stroke:0.32px #1f2328;">Do this...</div>
<svg style="left:883.8px;top:423.65px" width="11.5" height="11.5" viewBox="0 0 13 13" ><g stroke-width="2.300" stroke-linecap="round" fill="none"><path d="M4.800 1.600v3.200" stroke="#36c5f0"/><path d="M1.600 4.800h.1" stroke="#36c5f0"/><path d="M8.200 4.800h3.200" stroke="#2eb67d"/><path d="M8.200 1.600v.1" stroke="#2eb67d"/><path d="M8.200 8.200v3.200" stroke="#ecb22e"/><path d="M11.400 8.200h-.1" stroke="#ecb22e"/><path d="M1.600 8.200h3.200" stroke="#e01e5a"/><path d="M4.800 11.400v-.1" stroke="#e01e5a"/></g></svg>
<div class="t" style="left:903.3px;top:423px;font-size:11px;line-height:12px;color:#1f2328;letter-spacing:0.04px;-webkit-text-stroke:0.32px #1f2328;">Send a Slack alert</div>
<svg style="left:883.2px;top:444.35px" width="13" height="12" viewBox="0 0 14 13" ><path d="M5.800 3.200a2.500 2.500 0 0 1 4-.4 3 3 0 0 1 1.200-.3 2.900 2.900 0 0 1 0 5.800H3.300A2.500 2.500 0 0 1 2 3.800 2.700 2.700 0 0 1 5.800 3.200z" fill="#22a1dd"/><path d="M3.300 8.300H11c-.5 1.300-1.400 2-2.600 2a2.400 2.400 0 0 1-1.600-.6 2.300 2.300 0 0 1-3.500-1.400z" fill="#22a1dd"/></svg>
<div class="t" style="left:903.3px;top:444px;font-size:11px;line-height:12px;color:#1f2328;letter-spacing:0.15px;-webkit-text-stroke:0.32px #1f2328;">Add task</div>
<div class="abs" style="left:804px;top:484px;width:264px;height:122.29999999999995px;background:#f6f9fc;border:1px solid #dfe3e9;border-radius:5px;"></div>
<div class="abs" style="left:805px;top:485px;width:262px;height:28.399999999999977px;background:#f0f3f6;border-radius:4px 4px 0 0;"></div>
<div class="abs" style="left:805px;top:512.9px;width:262px;height:1.0px;background:#dfe3e9;"></div>
<div class="t" style="left:816px;top:492px;font-size:11px;line-height:12px;color:#1f2328;letter-spacing:0.198px;-webkit-text-stroke:0.32px #1f2328;">Automation 3</div>
<svg style="left:1051.4px;top:494.79999999999995px" width="3" height="8" viewBox="0 0 3 8" fill="#24282e"><circle cx="1.500" cy="1" r=".8"/><circle cx="1.500" cy="3.900" r=".8"/><circle cx="1.500" cy="6.800" r=".8"/></svg>
<div class="t" style="left:816px;top:527px;font-size:11px;line-height:12px;color:#1f2328;letter-spacing:0.014px;-webkit-text-stroke:0.32px #1f2328;">When...</div>
<svg style="left:883.3px;top:527.0999999999999px" width="12" height="11.5" viewBox="0 0 12 11.500" ><rect x=".2" y=".2" width="11.600" height="11.100" rx="2" fill="#8397a9"/><rect x=".2" y=".2" width="11.600" height="11.100" rx="2" fill="none" stroke="#6c8294" stroke-width=".6"/><path d="M2.400 4.600h3.600V2.500l3.800 3.250-3.800 3.250V6.900H2.400z" fill="#fff"/></svg>
<div class="t" style="left:903.3px;top:527px;font-size:11px;line-height:12px;color:#1f2328;letter-spacing:0.119px;-webkit-text-stroke:0.32px #1f2328;">Data enters table: Product c...</div>
<div class="t" style="left:816px;top:560px;font-size:11px;line-height:12px;color:#1f2328;letter-spacing:0.06px;-webkit-text-stroke:0.32px #1f2328;">Do this...</div>
<svg style="left:883.8px;top:560.3px" width="11.5" height="11.5" viewBox="0 0 13 13" ><g stroke-width="2.300" stroke-linecap="round" fill="none"><path d="M4.800 1.600v3.200" stroke="#36c5f0"/><path d="M1.600 4.800h.1" stroke="#36c5f0"/><path d="M8.200 4.800h3.200" stroke="#2eb67d"/><path d="M8.200 1.600v.1" stroke="#2eb67d"/><path d="M8.200 8.200v3.200" stroke="#ecb22e"/><path d="M11.400 8.200h-.1" stroke="#ecb22e"/><path d="M1.600 8.200h3.200" stroke="#e01e5a"/><path d="M4.800 11.400v-.1" stroke="#e01e5a"/></g></svg>
<div class="t" style="left:903.3px;top:560px;font-size:11px;line-height:12px;color:#1f2328;letter-spacing:0.04px;-webkit-text-stroke:0.32px #1f2328;">Send a Slack alert</div>
<svg style="left:883.5px;top:580.7px" width="13" height="13" viewBox="0 0 13 13" ><circle cx="6.700" cy="6.700" r="5.900" fill="#f1d9c6"/><path d="M1.300 8.800C.2 5.200 2 1.400 5.600.7c2.600-.5 4.800.5 6 2.400C9 2.600 6.600 3.400 5.200 5.400 4.200 6.800 3.600 8.600 3.800 10.600 2.700 10.400 1.700 9.800 1.300 8.800z" fill="#4a3a36"/><path d="M6.200 3.600c1.800-.8 3.800-.6 5.200.6" stroke="#4a3a36" stroke-width="1.100" fill="none" stroke-linecap="round"/><ellipse cx="8.300" cy="8.400" rx="3" ry="2.600" fill="#f8e9dd"/><circle cx="7.200" cy="6.400" r=".55" fill="#3a2a24"/><circle cx="9.700" cy="6.300" r=".55" fill="#3a2a24"/><path d="M7.200 9.400c.7.500 1.700.5 2.400 0" fill="none" stroke="#a66a4c" stroke-width=".6" stroke-linecap="round"/></svg>
<div class="t" style="left:903.3px;top:581px;font-size:11px;line-height:12px;color:#1f2328;letter-spacing:0.133px;-webkit-text-stroke:0.32px #1f2328;">Assign to Alexa</div>
<div class="abs" style="left:804px;top:620.65px;width:264px;height:60.0px;background:#f6f9fc;border:1px solid #dfe3e9;border-radius:5px;"></div>
<div class="abs" style="left:805px;top:621.65px;width:262px;height:28.399999999999977px;background:#f0f3f6;border-radius:4px 4px 0 0;"></div>
<div class="abs" style="left:805px;top:649.55px;width:262px;height:1.0px;background:#dfe3e9;"></div>
<div class="t" style="left:816px;top:629px;font-size:11px;line-height:12px;color:#1f2328;letter-spacing:0.198px;-webkit-text-stroke:0.32px #1f2328;">Automation 4</div>
<svg style="left:1051.4px;top:631.4499999999999px" width="3" height="8" viewBox="0 0 3 8" fill="#24282e"><circle cx="1.500" cy="1" r=".8"/><circle cx="1.500" cy="3.900" r=".8"/><circle cx="1.500" cy="6.800" r=".8"/></svg>
<div class="abs" style="left:793px;top:640px;width:287px;height:36px;background:#fff;"></div>
<div class="abs" style="left:793px;top:640px;width:287px;height:1px;background:#e3e7ec;"></div>
<div class="abs" style="left:804px;top:646px;width:264px;height:23px;background:#6540be;border-radius:3px;"></div>
<svg style="left:879.5px;top:653px" width="9" height="9" viewBox="0 0 9 9" fill="none" stroke="#fff" stroke-width="1.300" stroke-linecap="round"><path d="M4.500 .6v7.800M.6 4.500h7.800"/></svg>
<div class="t" style="left:898px;top:651px;font-size:11px;line-height:12px;color:#fff;letter-spacing:0.17px;-webkit-text-stroke:0.3px #fff;">Create Automation</div>
</div>
</body>
</html>
